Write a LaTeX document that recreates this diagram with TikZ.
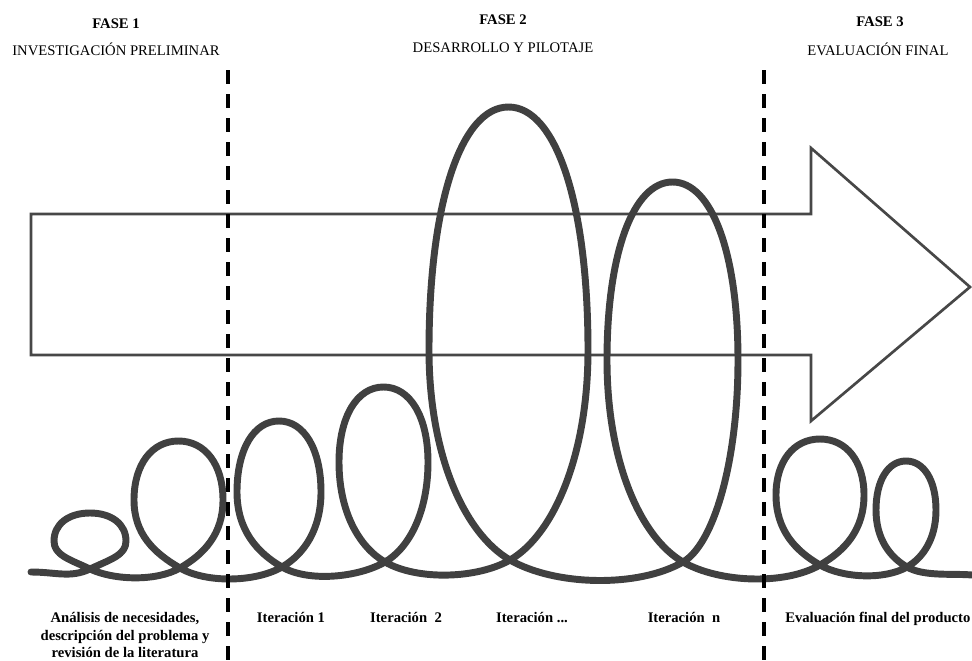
\documentclass[tikz,border=0pt]{standalone}
\usepackage{fontspec}
\setmainfont{Liberation Serif}
\definecolor{coilgray}{HTML}{404040}
\definecolor{arrowgray}{HTML}{474747}
\begin{document}
\begin{tikzpicture}[x=0.75pt,y=0.75pt,
  coil/.style={draw=coilgray, line width=5.2pt, line join=round, line cap=round},
  shaft/.style={draw=arrowgray, line width=2pt, line join=miter},
  phase/.style={draw=black, line width=3pt, dash pattern=on 10.5pt off 7.5pt},
  head/.style={font=\fontsize{11}{13}\selectfont\bfseries, anchor=base, inner sep=0pt},
  sub/.style={font=\fontsize{11}{13}\selectfont, anchor=base, inner sep=0pt},
  lab/.style={font=\fontsize{11}{13}\selectfont\bfseries, anchor=base, inner sep=0pt}]
\useasboundingbox (0,0) rectangle (972,-661);
\fill[white] (0,0) rectangle (972,-661);

% big arrow
\draw[shaft] (31,-214) -- (811,-214) -- (811,-148) -- (970,-287) -- (811,-421) -- (811,-355) -- (31,-355) -- cycle;

% coil
\coordinate (start) at (31,-572);
\coordinate (x1) at (90,-569);
\draw[coil] (start) .. controls +(25,0) and +(205:22) .. (x1)
\foreach \cx/\cy/\xl/\xr/\ym/\tp/\th/\nx/\ny/\na in {
  90/569/54/126/541/513/25/180/568/30,
  180/568/134/223/500/441/30/282/567/30,
  282/567/237/321/492/421/30/385/562/30,
  385/562/339/428/462/387/30/510/560/30,
  510/560/429/588/350/107/30/683/562/30,
  683/562/607/738/360/182/30/820/565/30,
  820/565/776/864/495/439/30/907/567/30,
  907/567/876/936/510/461/30/972/575/-5}{
  .. controls +(\th:{0.65*(\xr-\cx)}) and +(0,{-0.5*(\cy-\ym)}) .. (\xr,-\ym)
  .. controls +(0,{0.6*(\ym-\tp)}) and +({0.3*(\xr-\xl)},0) .. ({(\xl+\xr)/2},-\tp)
  .. controls +({-0.3*(\xr-\xl)},0) and +(0,{0.6*(\ym-\tp)}) .. (\xl,-\ym)
  .. controls +(0,{-0.5*(\cy-\ym)}) and +({180-\th}:{0.65*(\cx-\xl)}) .. (\cx,-\cy)
  .. controls +(-\th:{0.3*(\nx-\cx)}) and +({180+\na}:{0.3*(\nx-\cx)}) .. (\nx,-\ny)
};

% phase separators
\coordinate (d1t) at (228,-70);
\coordinate (d1b) at (228,-661);
\coordinate (d2t) at (764,-70);
\coordinate (d2b) at (764,-661);
\draw[phase] (d1t) -- (d1b);
\draw[phase] (d2t) -- (d2b);

% headings
\node[head] (f1) at (116,-28) {FASE 1};
\node[sub] (s1) at (116,-55) {INVESTIGACIÓN PRELIMINAR};
\node[head] (f2) at (503,-24) {FASE 2};
\node[sub] (s2) at (503,-52) {DESARROLLO Y PILOTAJE};
\node[head] (f3) at (880,-26) {FASE 3};
\node[sub] (s3) at (878,-55) {EVALUACIÓN FINAL};

% bottom labels
\node[lab] (a1) at (125,-622) {Análisis de necesidades,};
\node[lab] (a2) at (125,-640) {descripción del problema y};
\node[lab] (a3) at (125,-657) {revisión de la literatura};
\node[lab] (i1) at (291,-622) {Iteración 1};
\node[lab] (i2) at (406,-622) {Iteración\ \ 2};
\node[lab] (i3) at (532,-622) {Iteración ...};
\node[lab] (i4) at (684,-622) {Iteración\ \ n};
\node[lab, anchor=base west] (ev) at (785,-622) {Evaluación final del producto};
\end{tikzpicture}
\end{document}
